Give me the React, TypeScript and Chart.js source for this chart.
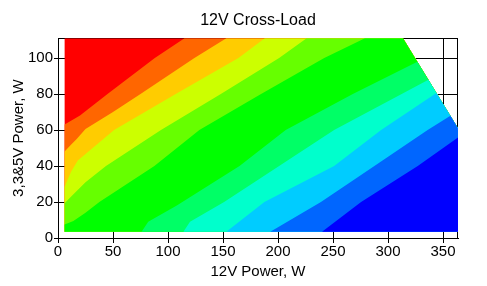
import React, { useEffect, useRef } from 'react';
import { Chart, registerables } from 'chart.js';

Chart.register(...registerables);

const chartTitle = '12V Cross-Load';
const xTitle = '12V Power, W';
const yTitle = '3,3&5V Power, W';
const xMax = 363.6;
const yMax = 111;
const xStep = 50;
const yStep = 20;

// measured domain (load combinations that were tested)
const domainX = [6, 363.6, 363.6, 313.6, 6];
const domainY = [3.5, 3.5, 61, 111, 111];

// colour of each level, lowest layer first
const levelColors = [
  '#FF0000', '#FF6600', '#FFCC00', '#CCFF00', '#66FF00', '#00FF00',
  '#00FF66', '#00FFCC', '#00CCFF', '#0066FF', '#0000FF',
];

// boundaries between neighbouring levels (12V power, 3.3&5V power)
const b1X = [6, 20, 45, 88, 115];
const b1Y = [63, 68, 80, 100, 111];
const b2X = [6, 12, 17, 25, 50, 75, 124, 153];
const b2Y = [48, 52, 55, 60.5, 70, 80, 100, 111];
const b3X = [6, 12, 18, 51, 107, 164, 188];
const b3Y = [28.5, 37, 43, 60, 80, 100, 111];
const b4X = [6, 12, 25, 43.6, 93.6, 148, 201, 226];
const b4Y = [19.3, 23, 31, 40, 60, 80, 100, 111];
const b5X = [6, 14, 25, 37.6, 87.6, 128.5, 183, 242, 279];
const b5Y = [7.5, 9.5, 14, 20, 40, 60, 79.4, 100, 111];
const b6X = [76, 82, 108, 165, 207, 268, 327, 340];
const b6Y = [3.5, 9, 18, 40, 60, 80, 98, 100];
const b7X = [114, 120, 151, 201, 251, 337, 350];
const b7Y = [3.5, 9, 20, 40, 60, 88, 90];
const b8X = [153, 187.6, 251, 293.7, 344, 360];
const b8Y = [3.5, 20, 40, 60, 80.6, 84];
const b9X = [193, 239, 287.6, 336, 357, 370];
const b9Y = [3.5, 20, 40, 60, 68, 71];
const b10X = [240, 275.5, 327, 364, 372];
const b10Y = [3.5, 20, 40, 56, 59];

const boundaryX = [b1X, b2X, b3X, b4X, b5X, b6X, b7X, b8X, b9X, b10X];
const boundaryY = [b1Y, b2Y, b3Y, b4Y, b5Y, b6Y, b7Y, b8Y, b9Y, b10Y];

type P = { x: number; y: number };

function clipPolygon(subject: P[], clip: P[]): P[] {
  let out = subject;
  for (let i = 0; i < clip.length; i++) {
    const a = clip[i];
    const b = clip[(i + 1) % clip.length];
    const side = (p: P) => (b.x - a.x) * (p.y - a.y) - (b.y - a.y) * (p.x - a.x);
    const inp = out;
    out = [];
    for (let j = 0; j < inp.length; j++) {
      const cur = inp[j];
      const prev = inp[(j + inp.length - 1) % inp.length];
      const sc = side(cur);
      const sp = side(prev);
      const inter = () => {
        const t = sp / (sp - sc);
        return { x: prev.x + (cur.x - prev.x) * t, y: prev.y + (cur.y - prev.y) * t };
      };
      if (sc >= 0) {
        if (sp < 0) out.push(inter());
        out.push(cur);
      } else if (sp >= 0) {
        out.push(inter());
      }
    }
  }
  return out;
}

function buildLayers() {
  const domain: P[] = domainX.map((x, i) => ({ x, y: domainY[i] }));
  const layers: P[][] = [domain];
  boundaryX.forEach((bx, k) => {
    const by = boundaryY[k];
    const pts: P[] = bx.map((x, i) => ({ x, y: by[i] }));
    const last = pts[pts.length - 1];
    const first = pts[0];
    const half: P[] = [
      ...pts,
      { x: 1000, y: last.y },
      { x: 1000, y: -100 },
      { x: first.x, y: -100 },
    ];
    layers.push(clipPolygon(half, domain));
  });
  return layers;
}

export default function App() {
  const ref = useRef<HTMLCanvasElement | null>(null);

  useEffect(() => {
    if (!ref.current) return;
    const family = "'Liberation Sans', Arial, sans-serif";
    Chart.defaults.font.family = family;
    Chart.defaults.color = '#000';
    const layers = buildLayers();
    const datasets = layers.map((poly, k) => ({
      data: poly,
      showLine: true,
      fill: 'shape',
      backgroundColor: levelColors[k],
      borderColor: levelColors[k],
      borderWidth: 0,
      pointRadius: 0,
      pointHoverRadius: 0,
      tension: 0,
      order: 100 - k,
    }));
    const frame = {
      id: 'frame',
      beforeDatasetsDraw(chart: any) {
        const { ctx, chartArea } = chart;
        ctx.save();
        ctx.strokeStyle = '#000';
        ctx.lineWidth = 1;
        ctx.strokeRect(
          Math.round(chartArea.left) + 0.5,
          Math.round(chartArea.top) + 0.5,
          Math.round(chartArea.right - chartArea.left) - 1,
          Math.round(chartArea.bottom - chartArea.top)
        );
        ctx.restore();
      },
    };
    const chart = new Chart(ref.current, {
      type: 'scatter',
      data: { datasets: datasets as any },
      plugins: [frame],
      options: {
        animation: false,
        responsive: true,
        maintainAspectRatio: false,
        events: [],
        layout: { padding: { left: 0, right: 29, top: 0, bottom: 0 } },
        plugins: {
          legend: { display: false },
          tooltip: { enabled: false },
          title: {
            display: true,
            fullSize: false,
            text: chartTitle,
            color: '#000',
            font: { size: 16, weight: 'normal', family },
            padding: { top: 11, bottom: 8 },
          },
        },
        scales: {
          x: {
            type: 'linear',
            min: 0,
            max: xMax,
            afterFit: (s: any) => { s.height = 48; },
            ticks: { stepSize: xStep, includeBounds: false, padding: 0, font: { size: 15, family }, color: '#000', maxRotation: 0 },
            grid: { color: '#000', lineWidth: 1, tickLength: 5, drawOnChartArea: true },
            border: { color: '#000', width: 1 },
            title: { display: true, text: xTitle, color: '#000', font: { size: 15, family }, padding: { top: 0, bottom: 5 } },
          },
          y: {
            type: 'linear',
            min: 0,
            max: yMax,
            afterFit: (s: any) => { s.width = 58; },
            ticks: { stepSize: yStep, includeBounds: false, padding: 1, font: { size: 15, family }, color: '#000' },
            grid: { color: '#000', lineWidth: 1, tickLength: 4, drawOnChartArea: true },
            border: { color: '#000', width: 1 },
            title: { display: true, text: yTitle, color: '#000', font: { size: 15, family }, padding: { top: 10, bottom: 0 } },
          },
        },
      } as any,
    });
    return () => chart.destroy();
  }, []);

  return (
    <div style={{ position: 'absolute', left: 0, top: 0, width: 487, height: 286, background: '#fff' }}>
      <canvas ref={ref} />
    </div>
  );
}
